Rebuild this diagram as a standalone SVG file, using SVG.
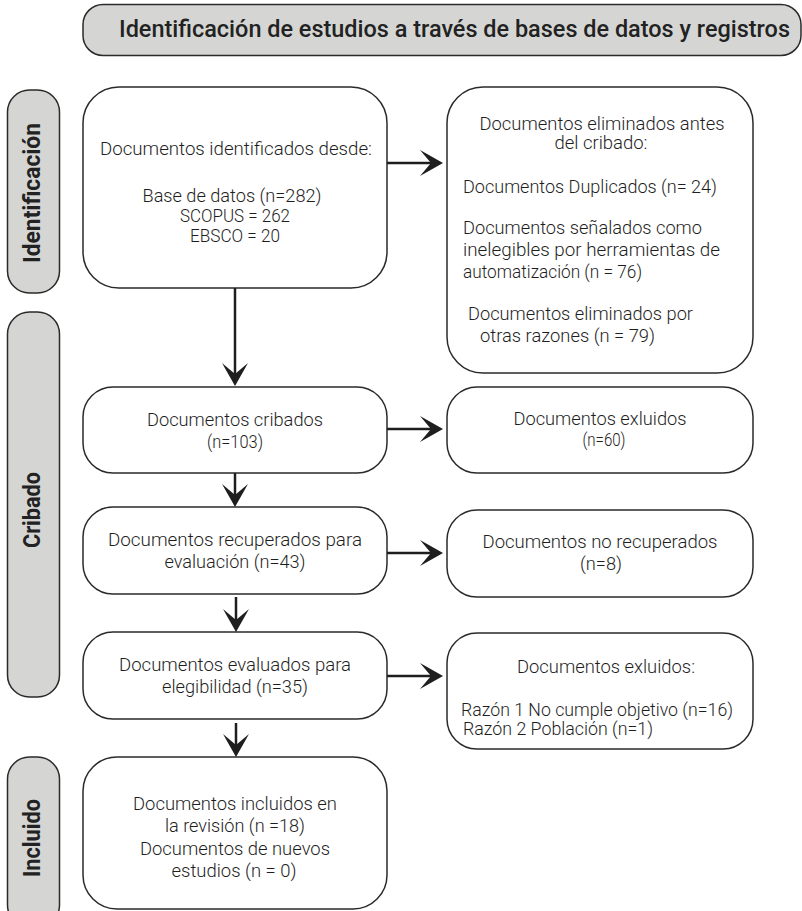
<svg xmlns="http://www.w3.org/2000/svg" width="802" height="911" viewBox="0 0 802 911">
  <style>
    .box { fill: #ffffff; stroke: #2a2a2a; stroke-width: 1.5; }
    .band { fill: #d5d6d4; stroke: #2a2a2a; stroke-width: 1.5; }
    .t { font-family: Roboto, "Liberation Sans", sans-serif; font-size: 18px; font-weight: 300; fill: #1e1e1e; }
    .s { font-size: 16px; }
    .c { text-anchor: middle; }
    .lab { font-family: Roboto, "Liberation Sans", sans-serif; font-size: 24px; font-weight: bold; fill: #222222; text-anchor: middle; }
    .head { font-family: Roboto, "Liberation Sans", sans-serif; font-size: 23px; font-weight: 500; fill: #222222; }
    .link { fill: none; stroke: #1e1e1e; stroke-width: 2.5; }
  </style>
  <defs>
    <marker id="arrow" markerUnits="userSpaceOnUse" markerWidth="26" markerHeight="28" viewBox="-24 -14 26 28" refX="-12" refY="0" orient="auto">
      <path d="M0,0 L-23,-13 L-12,0 L-23,13 Z" fill="#1e1e1e"/>
    </marker>
  </defs>

  <!-- header banner -->
  <g id="header">
    <rect class="band" x="83" y="4.5" width="718" height="51" rx="20"/>
    <text class="head" x="119" y="37" textLength="671" lengthAdjust="spacingAndGlyphs">Identificación de estudios a través de bases de datos y registros</text>
  </g>

  <!-- phase bands -->
  <g id="phase-identificacion">
    <rect class="band" x="7.5" y="90" width="52" height="203" rx="22"/>
    <text class="lab" transform="translate(40,193) rotate(-90)" textLength="140" lengthAdjust="spacingAndGlyphs">Identificación</text>
  </g>
  <g id="phase-cribado">
    <rect class="band" x="7.5" y="312" width="52" height="385" rx="22"/>
    <text class="lab" transform="translate(40,510) rotate(-90)" textLength="76" lengthAdjust="spacingAndGlyphs">Cribado</text>
  </g>
  <g id="phase-incluido">
    <rect class="band" x="7.5" y="757" width="52" height="170" rx="22"/>
    <text class="lab" transform="translate(40,838) rotate(-90)" textLength="78" lengthAdjust="spacingAndGlyphs">Incluido</text>
  </g>

  <!-- main flow -->
  <g id="identified">
    <rect class="box" x="83" y="87" width="304" height="201" rx="36"/>
    <text class="t c" x="236" y="155" textLength="272" lengthAdjust="spacingAndGlyphs">Documentos identificados desde:</text>
    <text class="t c" x="232" y="202" textLength="179" lengthAdjust="spacingAndGlyphs">Base de datos (n=282)</text>
    <text class="t c" x="235" y="222" textLength="110" lengthAdjust="spacingAndGlyphs">SCOPUS = 262</text>
    <text class="t c" x="235" y="242" textLength="90" lengthAdjust="spacingAndGlyphs">EBSCO = 20</text>
  </g>

  <g id="removed">
    <rect class="box" x="447" y="87" width="306" height="286" rx="36"/>
    <text class="t c" x="602" y="130" textLength="245" lengthAdjust="spacingAndGlyphs">Documentos eliminados antes</text>
    <text class="t c" x="601" y="149" textLength="93" lengthAdjust="spacingAndGlyphs">del cribado:</text>
    <text class="t" x="463" y="193" textLength="254" lengthAdjust="spacingAndGlyphs">Documentos Duplicados (n= 24)</text>
    <text class="t" x="463" y="234" textLength="239" lengthAdjust="spacingAndGlyphs">Documentos señalados como</text>
    <text class="t" x="463" y="256" textLength="257" lengthAdjust="spacingAndGlyphs">inelegibles por herramientas de</text>
    <text class="t" x="463" y="278" textLength="179" lengthAdjust="spacingAndGlyphs">automatización (n = 76)</text>
    <text class="t" x="468" y="320" textLength="225" lengthAdjust="spacingAndGlyphs">Documentos eliminados por</text>
    <text class="t" x="480" y="342" textLength="175" lengthAdjust="spacingAndGlyphs">otras razones (n = 79)</text>
  </g>

  <g id="screened">
    <rect class="box" x="83" y="387" width="304" height="86" rx="30"/>
    <text class="t c" x="235" y="426" textLength="176" lengthAdjust="spacingAndGlyphs">Documentos cribados</text>
    <text class="t c" x="235" y="448" textLength="56" lengthAdjust="spacingAndGlyphs">(n=103)</text>
  </g>

  <g id="excluded">
    <rect class="box" x="447" y="387" width="306" height="86" rx="30"/>
    <text class="t c" x="600" y="425" textLength="173" lengthAdjust="spacingAndGlyphs">Documentos exluidos</text>
    <text class="t c" x="604" y="446" textLength="43" lengthAdjust="spacingAndGlyphs">(n=60)</text>
  </g>

  <g id="retrieved">
    <rect class="box" x="83" y="507" width="304" height="87" rx="30"/>
    <text class="t c" x="235" y="546" textLength="254" lengthAdjust="spacingAndGlyphs">Documentos recuperados para</text>
    <text class="t c" x="235" y="568" textLength="141" lengthAdjust="spacingAndGlyphs">evaluación (n=43)</text>
  </g>

  <g id="not-retrieved">
    <rect class="box" x="447" y="510" width="306" height="87" rx="30"/>
    <text class="t c" x="600" y="548" textLength="235" lengthAdjust="spacingAndGlyphs">Documentos no recuperados</text>
    <text class="t c" x="601" y="570" textLength="42" lengthAdjust="spacingAndGlyphs">(n=8)</text>
  </g>

  <g id="assessed">
    <rect class="box" x="83" y="632" width="304" height="87" rx="30"/>
    <text class="t c" x="235" y="671" textLength="232" lengthAdjust="spacingAndGlyphs">Documentos evaluados para</text>
    <text class="t c" x="235" y="693" textLength="146" lengthAdjust="spacingAndGlyphs">elegibilidad (n=35)</text>
  </g>

  <g id="excluded-reasons">
    <rect class="box" x="447" y="633" width="306" height="116" rx="30"/>
    <text class="t c" x="606" y="673" textLength="178" lengthAdjust="spacingAndGlyphs">Documentos exluidos:</text>
    <text class="t" x="461" y="716" textLength="272" lengthAdjust="spacingAndGlyphs">Razón 1 No cumple objetivo (n=16)</text>
    <text class="t" x="463" y="735" textLength="190" lengthAdjust="spacingAndGlyphs">Razón 2 Población (n=1)</text>
  </g>

  <g id="included">
    <rect class="box" x="83" y="757" width="304" height="152" rx="34"/>
    <text class="t c" x="235" y="810" textLength="204" lengthAdjust="spacingAndGlyphs">Documentos incluidos en</text>
    <text class="t c" x="235" y="832" textLength="140" lengthAdjust="spacingAndGlyphs">la revisión (n =18)</text>
    <text class="t c" x="235" y="855" textLength="190" lengthAdjust="spacingAndGlyphs">Documentos de nuevos</text>
    <text class="t c" x="234" y="877" textLength="125" lengthAdjust="spacingAndGlyphs">estudios (n = 0)</text>
  </g>

  <!-- connectors: each path ends at the arrowhead notch -->
  <g id="connectors">
    <path class="link" d="M387,163 H431" marker-end="url(#arrow)"/>
    <path class="link" d="M235,288 V374" marker-end="url(#arrow)"/>
    <path class="link" d="M387,429 H431" marker-end="url(#arrow)"/>
    <path class="link" d="M235,473 V495" marker-end="url(#arrow)"/>
    <path class="link" d="M387,553 H431" marker-end="url(#arrow)"/>
    <path class="link" d="M236,597 V620" marker-end="url(#arrow)"/>
    <path class="link" d="M387,676 H431" marker-end="url(#arrow)"/>
    <path class="link" d="M236,723 V745" marker-end="url(#arrow)"/>
  </g>
</svg>
